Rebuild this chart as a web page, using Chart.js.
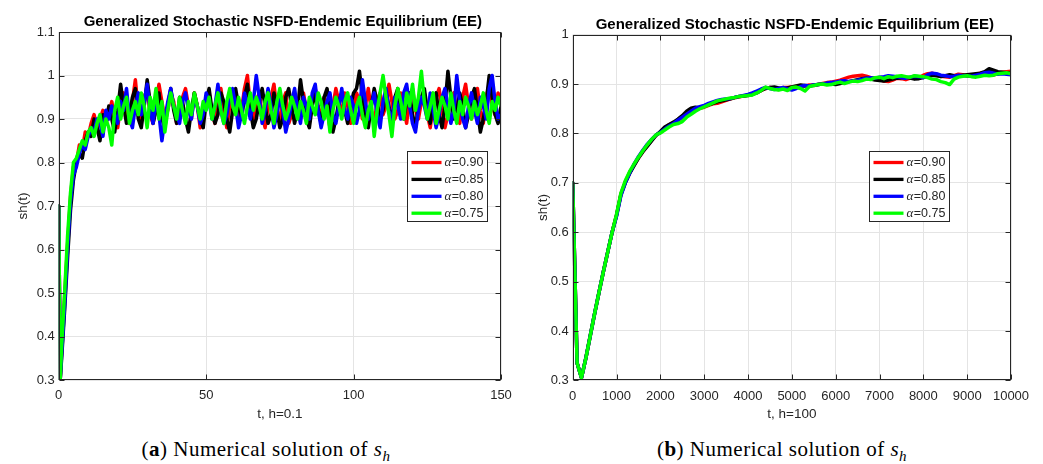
<!DOCTYPE html>
<html><head><meta charset="utf-8">
<script src="https://cdn.jsdelivr.net/npm/chart.js@4.4.1/dist/chart.umd.min.js"></script>
<style>
html,body{margin:0;padding:0;background:#fff;width:1043px;height:464px;overflow:hidden;}
#c1{position:absolute;left:0;top:0;}
#c2{position:absolute;left:520px;top:0;}
.cap{position:absolute;top:437px;width:320px;text-align:center;font-family:"Liberation Serif","Times New Roman",serif;font-size:21px;line-height:24px;color:#000;letter-spacing:0.5px;white-space:nowrap}
.cap sub{font-size:15px;vertical-align:-5px;line-height:0}
</style></head>
<body>
<canvas id="c1" width="520" height="426"></canvas>
<canvas id="c2" width="523" height="426"></canvas>
<div class="cap" style="left:106px">(<b>a</b>) Numerical solution of <i>s</i><sub><i>h</i></sub></div>
<div class="cap" style="left:622px">(<b>b</b>) Numerical solution of <i>s</i><sub><i>h</i></sub></div>
<script>
const titleText = 'Generalized Stochastic NSFD-Endemic Equilibrium (EE)';
const yLabel = 'sh(t)';
const xLabelA = 't, h=0.1';
const xLabelB = 't, h=100';
const seriesLabels = ['\u03b1=0.90', '\u03b1=0.85', '\u03b1=0.80', '\u03b1=0.75'];
const seriesColors = ['#ff0000', '#000000', '#0000ff', '#00ff00'];

// ---- Panel (a): t, h=0.1 ----
const tA = [0,0.5,
 1,2,3,4,5,6,7,8,9,10,
 11,12,13,14,15,16,17,18,19,20,
 21,22,23,24,25,26,27,28,29,30,
 31,32,33,34,35,36,37,38,39,40,
 41,42,43,44,45,46,47,48,49,50,
 51,52,53,54,55,56,57,58,59,60,
 61,62,63,64,65,66,67,68,69,70,
 71,72,73,74,75,76,77,78,79,80,
 81,82,83,84,85,86,87,88,89,90,
 91,92,93,94,95,96,97,98,99,100,
 101,102,103,104,105,106,107,108,109,110,
 111,112,113,114,115,116,117,118,119,120,
 121,122,123,124,125,126,127,128,129,130,
 131,132,133,134,135,136,137,138,139,140,
 141,142,143,144,145,146,147,148,149,150];

const a090 = [0.70,0.30,
 0.37,0.49,0.61,0.72,0.79,0.80,0.84,0.83,0.87,0.86,
 0.89,0.91,0.88,0.90,0.92,0.89,0.91,0.94,0.90,0.88,
 0.93,0.96,0.91,0.89,0.94,0.99,0.92,0.90,0.95,0.97,
 0.91,0.89,0.93,0.98,0.94,0.90,0.92,0.96,0.94,0.89,
 0.91,0.95,0.97,0.93,0.90,0.96,0.93,0.88,0.92,0.95,
 0.96,0.91,0.89,0.94,0.97,0.92,0.88,0.93,0.96,0.95,
 0.90,0.92,0.97,1.00,0.93,0.89,0.94,0.96,0.91,0.88,
 0.93,0.95,0.98,0.92,0.90,0.94,0.96,0.89,0.91,0.95,
 0.93,0.90,0.96,0.92,0.89,0.94,0.97,0.93,0.90,0.95,
 0.92,0.88,0.93,0.97,0.94,0.91,0.96,0.93,0.89,0.92,
 0.96,0.94,0.90,0.93,0.97,0.92,0.89,0.94,0.96,0.91,
 0.93,0.98,0.94,0.90,0.92,0.96,0.93,0.89,0.95,0.97,
 0.92,0.90,0.94,0.96,0.91,0.88,0.93,0.95,0.97,0.92,
 0.88,0.91,0.94,0.96,0.92,0.89,0.95,0.98,0.93,0.90,
 0.94,0.97,0.92,0.89,0.95,0.98,0.93,0.91,0.96,0.93];

const a085 = [0.70,0.30,
 0.35,0.46,0.58,0.69,0.76,0.80,0.82,0.81,0.85,0.87,
 0.86,0.90,0.88,0.85,0.91,0.89,0.93,0.90,0.87,0.92,
 0.98,0.93,0.89,0.91,0.95,0.97,0.90,0.88,0.93,0.99,
 0.94,0.89,0.92,0.96,0.90,0.88,0.93,0.97,0.92,0.89,
 0.95,0.94,0.90,0.87,0.92,0.96,0.93,0.90,0.88,0.94,
 0.97,0.92,0.89,0.91,0.96,0.94,0.90,0.87,0.92,0.97,
 0.93,0.90,0.95,0.98,0.92,0.88,0.90,0.94,0.97,0.93,
 0.89,0.91,0.96,0.92,0.88,0.90,0.95,0.97,0.93,0.89,
 0.92,0.99,0.94,0.90,0.88,0.93,0.96,0.92,0.89,0.95,
 0.97,0.92,0.87,0.90,0.94,0.96,0.92,0.89,0.93,0.96,
 0.97,1.01,0.95,0.91,0.88,0.93,0.97,0.94,0.90,0.92,
 0.96,0.93,0.89,0.95,0.97,0.92,0.90,0.94,0.96,0.91,
 0.88,0.93,0.95,0.97,0.92,0.89,0.94,0.96,0.91,0.88,
 0.93,1.01,0.95,0.90,0.92,0.96,0.93,0.88,0.91,0.95,
 0.97,0.92,0.87,0.90,0.94,1.00,0.95,0.91,0.89,0.93];

const a080 = [0.70,0.30,
 0.36,0.47,0.60,0.71,0.77,0.79,0.82,0.84,0.83,0.86,
 0.88,0.87,0.90,0.89,0.86,0.92,0.90,0.93,0.91,0.89,
 0.94,0.92,0.97,0.90,0.88,0.93,0.96,0.91,0.94,0.98,
 0.92,0.89,0.95,0.91,0.85,0.90,0.94,0.97,0.93,0.91,
 0.89,0.94,0.96,0.92,0.90,0.95,0.93,0.89,0.91,0.96,
 0.94,0.90,0.93,0.98,0.92,0.89,0.91,0.95,0.97,0.93,
 0.88,0.91,0.96,0.93,0.90,0.94,1.00,0.95,0.89,0.92,
 0.97,0.93,0.88,0.91,0.95,0.92,0.87,0.90,0.94,0.97,
 0.92,0.89,0.95,0.93,0.90,0.96,0.98,0.92,0.88,0.91,
 0.94,0.96,0.91,0.89,0.93,0.97,0.92,0.90,0.95,0.93,
 0.89,0.92,0.99,0.94,0.90,0.93,0.96,0.91,0.88,0.94,
 0.97,0.92,0.89,0.95,0.93,0.90,0.96,0.98,0.93,0.89,
 0.87,0.92,0.95,0.93,0.90,0.96,0.92,0.88,0.91,0.95,
 0.97,0.93,0.89,0.92,1.00,0.94,0.90,0.88,0.93,0.96,
 0.92,0.89,0.95,0.93,0.90,0.97,1.00,0.94,0.90,0.91];

const a075 = [0.70,0.30,
 0.38,0.50,0.63,0.73,0.80,0.81,0.83,0.85,0.84,0.87,
 0.88,0.86,0.89,0.91,0.87,0.90,0.88,0.84,0.92,0.95,
 0.90,0.93,0.95,0.89,0.92,0.94,0.91,0.96,0.93,0.88,
 0.95,0.92,0.97,0.90,0.94,0.87,0.92,0.96,0.93,0.90,
 0.95,0.92,0.89,0.94,0.91,0.96,0.93,0.90,0.94,0.92,
 0.95,0.90,0.93,0.96,0.92,0.89,0.94,0.97,0.93,0.91,
 0.95,0.92,0.89,0.93,0.96,0.92,0.95,0.93,0.90,0.94,
 0.96,0.92,0.89,0.94,0.97,0.93,0.90,0.92,0.95,0.93,
 0.90,0.94,0.92,0.89,0.95,0.93,0.91,0.96,0.94,0.90,
 0.93,0.87,0.92,0.95,0.93,0.90,0.94,0.96,0.92,0.89,
 0.93,0.95,0.91,0.88,0.92,0.94,0.86,0.92,0.96,1.00,
 0.95,0.91,0.86,0.93,0.97,0.94,0.90,0.96,0.93,0.98,
 0.92,0.95,1.01,0.94,0.90,0.93,0.96,0.89,0.92,0.95,
 0.93,0.90,0.96,0.92,0.89,0.94,0.91,0.95,0.93,0.90,
 0.94,0.91,0.93,0.96,0.92,0.89,0.94,0.92,0.95,0.93];

// ---- Panel (b): t, h=100 ----
const tB = [0,100,200,300,400,500,600,700,800,900,
 1000,1100,1200,1300,1400,1500,1600,1700,1800,1900,
 2000,2100,2200,2300,2400,2500,2600,2700,2800,2900,
 3000,3100,3200,3300,3400,3500,3600,3700,3800,3900,
 4000,4100,4200,4300,4400,4500,4600,4700,4800,4900,
 5000,5100,5200,5300,5400,5500,5600,5700,5800,5900,
 6000,6100,6200,6300,6400,6500,6600,6700,6800,6900,
 7000,7100,7200,7300,7400,7500,7600,7700,7800,7900,
 8000,8100,8200,8300,8400,8500,8600,8700,8800,8900,
 9000,9100,9200,9300,9400,9500,9600,9700,9800,9900,
 10000];

const b090 = [0.700,0.335,0.305,0.345,0.390,0.435,0.478,0.520,0.560,0.600,
 0.635,0.677,0.702,0.721,0.736,0.750,0.763,0.775,0.786,0.796,
 0.802,0.811,0.818,0.821,0.826,0.833,0.838,0.842,0.847,0.851,
 0.853,0.857,0.860,0.861,0.864,0.867,0.870,0.872,0.874,0.876,
 0.878,0.881,0.884,0.887,0.891,0.893,0.890,0.889,0.893,0.893,
 0.894,0.895,0.893,0.896,0.898,0.897,0.899,0.901,0.903,0.904,
 0.906,0.908,0.911,0.914,0.916,0.917,0.918,0.916,0.913,0.912,
 0.910,0.906,0.905,0.908,0.912,0.911,0.909,0.912,0.914,0.913,
 0.918,0.921,0.922,0.919,0.916,0.915,0.914,0.917,0.920,0.919,
 0.916,0.918,0.920,0.922,0.921,0.919,0.918,0.921,0.924,0.925,
 0.926];

const b085 = [0.700,0.335,0.305,0.345,0.390,0.435,0.478,0.520,0.560,0.600,
 0.634,0.676,0.700,0.719,0.735,0.750,0.763,0.774,0.785,0.796,
 0.804,0.813,0.818,0.823,0.829,0.836,0.845,0.851,0.853,0.852,
 0.855,0.858,0.861,0.864,0.866,0.868,0.870,0.873,0.875,0.876,
 0.877,0.879,0.882,0.887,0.891,0.893,0.894,0.892,0.890,0.892,
 0.894,0.896,0.898,0.897,0.896,0.898,0.899,0.900,0.901,0.900,
 0.899,0.901,0.903,0.905,0.907,0.909,0.911,0.912,0.910,0.908,
 0.907,0.906,0.908,0.910,0.912,0.913,0.914,0.912,0.910,0.911,
 0.913,0.916,0.918,0.917,0.915,0.917,0.919,0.917,0.916,0.918,
 0.919,0.920,0.921,0.922,0.925,0.931,0.928,0.925,0.924,0.923,
 0.922];

const b080 = [0.700,0.335,0.305,0.345,0.390,0.435,0.478,0.520,0.560,0.600,
 0.632,0.674,0.700,0.720,0.738,0.753,0.766,0.778,0.788,0.797,
 0.802,0.809,0.815,0.820,0.827,0.833,0.839,0.845,0.851,0.854,
 0.857,0.861,0.864,0.867,0.869,0.870,0.871,0.873,0.875,0.877,
 0.879,0.882,0.886,0.890,0.893,0.891,0.889,0.891,0.893,0.890,
 0.888,0.891,0.895,0.897,0.896,0.898,0.899,0.900,0.902,0.903,
 0.904,0.906,0.907,0.905,0.906,0.908,0.910,0.912,0.913,0.912,
 0.914,0.915,0.917,0.916,0.915,0.913,0.912,0.914,0.916,0.915,
 0.913,0.919,0.922,0.921,0.918,0.917,0.915,0.916,0.918,0.917,
 0.917,0.916,0.918,0.920,0.923,0.924,0.922,0.920,0.921,0.920,
 0.919];

const b075 = [0.700,0.335,0.305,0.345,0.390,0.435,0.478,0.520,0.560,0.600,
 0.636,0.679,0.704,0.723,0.738,0.752,0.765,0.777,0.788,0.797,
 0.801,0.807,0.813,0.818,0.820,0.824,0.833,0.839,0.845,0.850,
 0.854,0.858,0.862,0.866,0.868,0.870,0.872,0.873,0.875,0.876,
 0.877,0.878,0.882,0.887,0.894,0.891,0.889,0.888,0.890,0.887,
 0.893,0.894,0.891,0.886,0.895,0.897,0.899,0.900,0.898,0.899,
 0.902,0.904,0.901,0.904,0.906,0.905,0.907,0.910,0.909,0.913,
 0.914,0.911,0.915,0.913,0.916,0.917,0.915,0.914,0.917,0.916,
 0.915,0.913,0.910,0.909,0.905,0.903,0.899,0.910,0.914,0.916,
 0.917,0.915,0.914,0.916,0.918,0.917,0.918,0.921,0.922,0.923,
 0.921];

const FONT = '"Liberation Sans", Arial, Helvetica, sans-serif';

function makeDatasets(t, arrays, width) {
  return arrays.map((vals, i) => ({
    label: seriesLabels[i],
    data: vals.map((v, j) => ({x: t[j], y: v})),
    borderColor: seriesColors[i],
    backgroundColor: seriesColors[i],
    borderWidth: width,
    pointRadius: 0,
    tension: 0,
    fill: false,
    borderJoinStyle: 'round',
    borderCapStyle: 'round',
    order: arrays.length - i
  }));
}

const matlabFrame = {
  id: 'matlabFrame',
  afterDatasetsDraw(chart, args, o) {
    const {ctx, chartArea: a, scales: {x, y}} = chart;
    ctx.save();
    ctx.strokeStyle = '#262626';
    ctx.lineWidth = 1;
    const L = Math.round(a.left) + 0.5, R = Math.round(a.right) - 0.5;
    const T = Math.round(a.top) + 0.5, B = Math.round(a.bottom) - 0.5;
    ctx.beginPath();
    x.ticks.forEach(t => {
      const p = Math.round(x.getPixelForValue(t.value)) + 0.5;
      ctx.moveTo(p, B); ctx.lineTo(p, B - o.tick);
      ctx.moveTo(p, T); ctx.lineTo(p, T + o.tick);
    });
    y.ticks.forEach(t => {
      const p = Math.round(y.getPixelForValue(t.value)) + 0.5;
      ctx.moveTo(L, p); ctx.lineTo(L + o.tick, p);
      ctx.moveTo(R, p); ctx.lineTo(R - o.tick, p);
    });
    ctx.stroke();
    ctx.strokeRect(L, T, R - L, B - T);
    // title
    ctx.fillStyle = '#000';
    ctx.font = 'bold 15px ' + FONT;
    ctx.textAlign = 'center';
    ctx.textBaseline = 'middle';
    ctx.fillText(o.title, (a.left + a.right) / 2 + 3, a.top - o.titleGap);
    // legend
    const bx = Math.round(a.left + o.legendX) + 0.5, by = Math.round(a.top + o.legendY) + 0.5;
    const bw = o.legendW, bh = o.legendH;
    ctx.fillStyle = '#fff';
    ctx.fillRect(bx, by, bw, bh);
    ctx.strokeStyle = '#262626';
    ctx.lineWidth = 1;
    ctx.strokeRect(bx, by, bw, bh);
    chart.data.datasets.forEach((ds, i) => {
      const cy = by + 11 + i * 16.9;
      ctx.strokeStyle = ds.borderColor;
      ctx.lineWidth = 3.3;
      ctx.lineCap = 'butt';
      ctx.beginPath();
      ctx.moveTo(bx + 4, cy); ctx.lineTo(bx + 34, cy);
      ctx.stroke();
      ctx.fillStyle = '#262626';
      ctx.textAlign = 'left';
      ctx.textBaseline = 'middle';
      const sym = ds.label.charAt(0), rest = ds.label.slice(1);
      ctx.font = 'italic 13px "Liberation Serif", "Times New Roman", serif';
      ctx.fillText(sym, bx + 37, cy + 0.5);
      const w = ctx.measureText(sym).width;
      ctx.font = '12.5px ' + FONT;
      ctx.fillText(rest, bx + 37 + w + 0.5, cy + 0.5);
    });
    ctx.restore();
  }
};

function makeOptions(cfg) {
  return {
    responsive: false,
    animation: false,
    devicePixelRatio: 1,
    layout: {padding: cfg.padding},
    plugins: {
      legend: {display: false},
      tooltip: {enabled: false},
      title: {display: false},
      matlabFrame: cfg.frame
    },
    scales: {
      x: {
        type: 'linear', min: cfg.xMin, max: cfg.xMax,
        ticks: {stepSize: cfg.xStep, autoSkip: false, maxRotation: 0, minRotation: 0,
                padding: 8, color: '#262626', font: {family: FONT, size: 13},
                callback: v => String(v)},
        grid: {color: '#e4e4e4', lineWidth: 1, drawTicks: false},
        border: {display: false},
        title: {display: true, text: cfg.xTitle, color: '#262626',
                font: {family: FONT, size: 13.5}, padding: {top: 4, bottom: 4}},
        afterFit: s => { s.height = cfg.xHeight; }
      },
      y: {
        type: 'linear', min: cfg.yMin, max: cfg.yMax,
        ticks: {stepSize: 0.1, padding: 4, color: '#262626', font: {family: FONT, size: 13},
                callback: v => String(Math.round(v * 10) / 10)},
        grid: {color: '#e4e4e4', lineWidth: 1, drawTicks: false},
        border: {display: false},
        title: {display: true, text: yLabel, color: '#262626',
                font: {family: FONT, size: 13.5}, padding: {top: 4, bottom: 4}},
        afterFit: s => { s.width = cfg.yWidth; }
      }
    }
  };
}

new Chart(document.getElementById('c1'), {
  type: 'line',
  data: {datasets: makeDatasets(tA, [a090, a085, a080, a075], 3.5)},
  options: makeOptions({
    padding: {left: 11, top: 32, right: 19, bottom: 0},
    xMin: 0, xMax: 150, xStep: 50, xTitle: xLabelA, xHeight: 46,
    yMin: 0.3, yMax: 1.1, yWidth: 47.7,
    frame: {title: titleText, titleGap: 10.5, tick: 5,
            legendX: 348, legendY: 119, legendW: 80, legendH: 70}
  }),
  plugins: [matlabFrame]
});

new Chart(document.getElementById('c2'), {
  type: 'line',
  data: {datasets: makeDatasets(tB, [b090, b085, b080, b075], 3.5)},
  options: makeOptions({
    padding: {left: 11, top: 34.7, right: 32, bottom: 0},
    xMin: 0, xMax: 10000, xStep: 1000, xTitle: xLabelB, xHeight: 45.7,
    yMin: 0.3, yMax: 1.0, yWidth: 41.7,
    frame: {title: titleText, titleGap: 9.5, tick: 5,
            legendX: 296.6, legendY: 116.3, legendW: 80, legendH: 70}
  }),
  plugins: [matlabFrame]
});
</script>
</body></html>
